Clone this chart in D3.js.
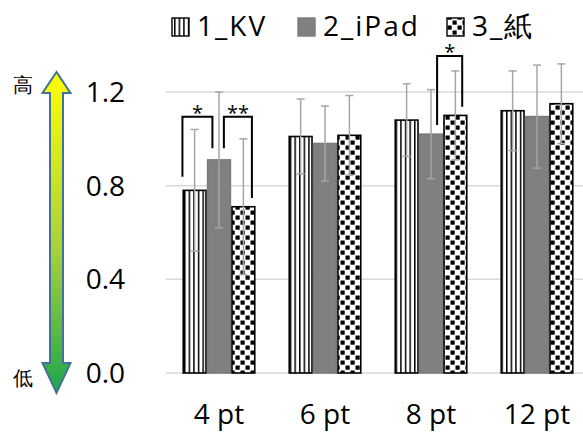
<!DOCTYPE html>
<html>
<head>
<meta charset="utf-8">
<script src="https://cdn.jsdelivr.net/npm/d3@7"></script>
<style>
  body { margin: 0; background: #fff; }
  svg { display: block; }
  text { font-family: "Open Sans", "Noto Sans", sans-serif; font-weight: 400; fill: #000; }
</style>
</head>
<body>
<div id="chart"></div>
<script>
// data
const categories = ["4 pt", "6 pt", "8 pt", "12 pt"];
const seriesNames = ["1_KV", "2_iPad", "3_紙"];
const kvMean = [0.78, 1.01, 1.08, 1.12];
const kvSd = [0.26, 0.16, 0.155, 0.17];
const ipadMean = [0.91, 0.98, 1.02, 1.095];
const ipadSd = [0.29, 0.16, 0.19, 0.22];
const paperMean = [0.71, 1.015, 1.10, 1.15];
const paperSd = [0.29, 0.17, 0.19, 0.17];
const yTicks = [0, 0.4, 0.8, 1.2];
// significance brackets: group, legs (series + position inside bar), heights in value units
const brackets = [
  { cat: "4 pt", label: "*",  left: [0, 0.0],  right: [1, 0.23], top: 1.094, leftEnd: 0.838, rightEnd: 0.96 },
  { cat: "4 pt", label: "**", left: [1, 0.7],  right: [2, 0.85], top: 1.094, leftEnd: 0.96, rightEnd: 0.747 },
  { cat: "8 pt", label: "*",  left: [1, 0.75], right: [2, 0.78], top: 1.354, leftEnd: 1.059, rightEnd: 1.137 }
];

const means = [kvMean, ipadMean, paperMean];
const sds = [kvSd, ipadSd, paperSd];
const rows = [];
categories.forEach((c, i) => {
  seriesNames.forEach((s, j) => rows.push({ cat: c, series: s, si: j, mean: means[j][i], sd: sds[j][i] }));
});

const W = 583, H = 432;
const svg = d3.select("#chart").append("svg").attr("width", W).attr("height", H);

// patterns
const defs = svg.append("defs");
const stripes = defs.append("pattern").attr("id", "stripes")
  .attr("patternUnits", "userSpaceOnUse").attr("width", 4.6).attr("height", 10);
stripes.append("rect").attr("width", 4.6).attr("height", 10).attr("fill", "#fff");
stripes.append("rect").attr("x", 0).attr("width", 1.5).attr("height", 10).attr("fill", "#000");

const checker = defs.append("pattern").attr("id", "checker")
  .attr("patternUnits", "userSpaceOnUse").attr("width", 10).attr("height", 10);
checker.append("rect").attr("width", 10).attr("height", 10).attr("fill", "#fff");
checker.append("rect").attr("x", 0.5).attr("y", 0.5).attr("width", 4.2).attr("height", 4.2).attr("fill", "#000");
checker.append("rect").attr("x", 5.5).attr("y", 5.5).attr("width", 4.2).attr("height", 4.2).attr("fill", "#000");

const grad = defs.append("linearGradient").attr("id", "arrowGrad")
  .attr("x1", 0).attr("y1", 0).attr("x2", 0).attr("y2", 1);
grad.append("stop").attr("offset", "0%").attr("stop-color", "#ffff00");
grad.append("stop").attr("offset", "55%").attr("stop-color", "#a8d23a");
grad.append("stop").attr("offset", "100%").attr("stop-color", "#1ea64c");

const fills = ["url(#stripes)", "#808080", "url(#checker)"];
const strokes = ["#000", "#7a7a7a", "#000"];

const x0 = d3.scaleBand().domain(categories).range([166, 590])
  .paddingInner(0.31).paddingOuter(0.155);
const x1 = d3.scaleBand().domain(seriesNames).range([0, x0.bandwidth()]);
const y = d3.scaleLinear().domain([0, 1.2]).range([373, 92]);

// gridlines
svg.append("g").selectAll("line").data(yTicks).join("line")
  .attr("x1", 166).attr("x2", W)
  .attr("y1", d => y(d)).attr("y2", d => y(d))
  .attr("stroke", "#d9d9d9").attr("stroke-width", 1.5);

// y tick labels
svg.append("g").selectAll("text").data(yTicks).join("text")
  .attr("x", 125).attr("y", d => y(d)).attr("dy", "0.36em")
  .attr("text-anchor", "end").attr("font-size", 28)
  .text(d3.format(".1f"));

// bars
svg.append("g").selectAll("rect").data(rows).join("rect")
  .attr("x", d => x0(d.cat) + x1(d.series) + 0.8)
  .attr("width", x1.bandwidth() - 1.6)
  .attr("y", d => y(d.mean))
  .attr("height", d => y(0) - y(d.mean))
  .attr("fill", d => fills[d.si])
  .attr("stroke", d => strokes[d.si])
  .attr("stroke-width", 1.6);

// error bars
const eb = svg.append("g").attr("stroke", "#a6a6a6").attr("stroke-width", 1.5);
const cx = d => x0(d.cat) + x1(d.series) + x1.bandwidth() / 2;
eb.selectAll(".v").data(rows).join("line").attr("class", "v")
  .attr("x1", cx).attr("x2", cx)
  .attr("y1", d => y(d.mean + d.sd)).attr("y2", d => y(d.mean - d.sd));
eb.selectAll(".t").data(rows).join("line").attr("class", "t")
  .attr("x1", d => cx(d) - 4).attr("x2", d => cx(d) + 4)
  .attr("y1", d => y(d.mean + d.sd)).attr("y2", d => y(d.mean + d.sd));
eb.selectAll(".b").data(rows).join("line").attr("class", "b")
  .attr("x1", d => cx(d) - 4).attr("x2", d => cx(d) + 4)
  .attr("y1", d => y(d.mean - d.sd)).attr("y2", d => y(d.mean - d.sd));

// significance brackets
const legX = (leg, cat) => x0(cat) + x1(seriesNames[leg[0]]) + leg[1] * x1.bandwidth();
const bg = svg.append("g");
brackets.forEach(b => {
  const xl = legX(b.left, b.cat), xr = legX(b.right, b.cat);
  bg.append("path")
    .attr("d", `M${xl},${y(b.leftEnd)}V${y(b.top)}H${xr}V${y(b.rightEnd)}`)
    .attr("fill", "none").attr("stroke", "#000").attr("stroke-width", 2);
  bg.append("text")
    .attr("x", (xl + xr) / 2).attr("y", y(b.top) + 3)
    .attr("text-anchor", "middle").attr("font-size", 20)
    .attr("font-family", "'Liberation Sans'")
    .text(b.label);
});

// x labels
svg.append("g").selectAll("text").data(categories).join("text")
  .attr("x", d => x0(d) + x0.bandwidth() / 2).attr("y", 424)
  .attr("text-anchor", "middle").attr("font-size", 28)
  .text(d => d);

// legend
const legendX = [197, 323, 472];
const lg = svg.append("g").selectAll("g").data(seriesNames).join("g")
  .attr("transform", (d, i) => `translate(${legendX[i]},0)`);
lg.append("rect").attr("x", -25).attr("y", 18).attr("width", 17).attr("height", 18)
  .attr("fill", (d, i) => fills[i]).attr("stroke", (d, i) => strokes[i]).attr("stroke-width", 1.4);
lg.append("text").attr("x", 0).attr("y", 36).attr("font-size", 28)
  .attr("letter-spacing", 2)
  .text(d => d);

// double arrow (high/low)
const ax = 56.5, shaft = 6.5, head = 14;
const topTip = y(1.2) - 20, topBase = y(1.2) + 1;
const botTip = y(0) + 20, botBase = y(0) - 10;
svg.append("path")
  .attr("d", `M${ax},${topTip}L${ax + head},${topBase}H${ax + shaft}V${botBase}H${ax + head}L${ax},${botTip}L${ax - head},${botBase}H${ax - shaft}V${topBase}H${ax - head}Z`)
  .attr("fill", "url(#arrowGrad)").attr("stroke", "#41719c").attr("stroke-width", 2);

svg.append("text").attr("x", 23).attr("y", y(1.2) - 7).attr("dy", "0.35em")
  .attr("text-anchor", "middle").attr("font-size", 20)
  .attr("font-family", "'Noto Sans CJK JP'").text("高");
svg.append("text").attr("x", 23).attr("y", y(0) + 5).attr("dy", "0.35em")
  .attr("text-anchor", "middle").attr("font-size", 20)
  .attr("font-family", "'Noto Sans CJK JP'").text("低");
</script>
</body>
</html>
